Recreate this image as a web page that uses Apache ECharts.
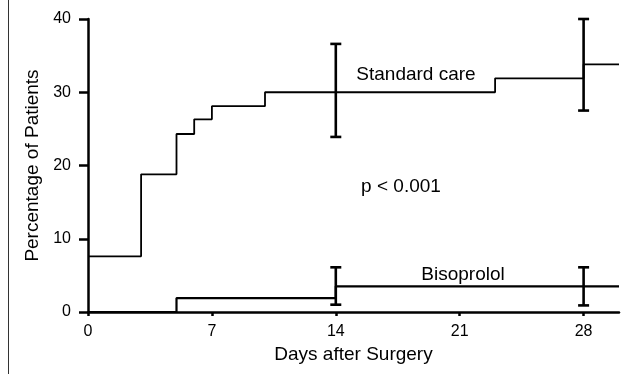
<!DOCTYPE html>
<html>
<head>
<meta charset="utf-8">
<script src="https://cdn.jsdelivr.net/npm/echarts@6/dist/echarts.min.js"></script>
<style>html,body{margin:0;padding:0;background:#fff}#c{width:631px;height:374px}</style>
</head>
<body>
<div id="c"></div>
<script>
// Standard care Kaplan-Meier style step curve (day, percentage)
const stdDays = [0, 3, 5, 6, 7, 10, 23, 28, 30];
const stdValues = [7.6, 18.8, 24.3, 26.3, 28.1, 30.0, 31.9, 33.8, 33.8];
// Bisoprolol step curve
const bisDays = [0, 5, 14, 30];
const bisValues = [0, 1.9, 3.5, 3.5];
// Error bars: day, low, high
const stdErrDays = [14, 28];
const stdErrLow = [23.9, 27.5];
const stdErrHigh = [36.6, 40.0];
const bisErrDays = [14, 28];
const bisErrLow = [1.0, 0.9];
const bisErrHigh = [6.1, 6.1];
// Axis ticks
const xTicks = [0, 7, 14, 21, 28];
const yTicks = [0, 10, 20, 30, 40];

const FONT = 'Liberation Sans';
const chart = echarts.init(document.getElementById('c'), null, {renderer: 'canvas'});

function errSeries(days, low, high) {
  return {
    type: 'custom',
    data: days.map((d, i) => [d, low[i], high[i]]),
    renderItem: function (params, api) {
      const x = api.value(0);
      const lo = api.coord([x, api.value(1)]);
      const hi = api.coord([x, api.value(2)]);
      const hw = 5.5;
      const style = {stroke: '#000', lineWidth: 2.6};
      return {
        type: 'group',
        children: [
          {type: 'line', shape: {x1: lo[0], y1: lo[1], x2: hi[0], y2: hi[1]}, style: style},
          {type: 'line', shape: {x1: lo[0] - hw, y1: lo[1], x2: lo[0] + hw, y2: lo[1]}, style: style},
          {type: 'line', shape: {x1: hi[0] - hw, y1: hi[1], x2: hi[0] + hw, y2: hi[1]}, style: style}
        ]
      };
    },
    z: 5,
    silent: true
  };
}

chart.setOption({
  animation: false,
  backgroundColor: '#fff',
  grid: {left: 88, right: 12, top: 19, bottom: 62, containLabel: false},
  xAxis: {
    type: 'value', min: 0, max: 30, interval: 7,
    name: 'Days after Surgery', nameLocation: 'middle', nameGap: 31,
    nameTextStyle: {fontFamily: FONT, fontSize: 19, color: '#000'},
    axisLine: {show: true, lineStyle: {color: '#000', width: 2.5}},
    axisTick: {show: true, length: 4, customValues: xTicks, lineStyle: {color: '#000', width: 2.5}},
    axisLabel: {customValues: xTicks, fontFamily: FONT, fontSize: 16, color: '#000', margin: 12},
    splitLine: {show: false}
  },
  yAxis: {
    type: 'value', min: 0, max: 40, interval: 10,
    name: 'Percentage of Patients', nameLocation: 'middle', nameGap: 45,
    nameTextStyle: {fontFamily: FONT, fontSize: 19, color: '#000'},
    axisLine: {show: true, onZero: false, lineStyle: {color: '#000', width: 2.5}},
    axisTick: {show: true, length: 9, customValues: yTicks, lineStyle: {color: '#000', width: 2.5}},
    axisLabel: {customValues: yTicks, fontFamily: FONT, fontSize: 16, color: '#000', margin: 17},
    splitLine: {show: false}
  },
  graphic: [
    {type: 'line', shape: {x1: 8.5, y1: 0, x2: 8.5, y2: 374}, style: {stroke: '#333', lineWidth: 1}},
    {type: 'text', x: 416, y: 75, style: {text: 'Standard care', font: '19px "Liberation Sans"', fill: '#000', align: 'center', verticalAlign: 'middle'}},
    {type: 'text', x: 401, y: 187, style: {text: 'p < 0.001', font: '19px "Liberation Sans"', fill: '#000', align: 'center', verticalAlign: 'middle'}},
    {type: 'text', x: 463, y: 275, style: {text: 'Bisoprolol', font: '19px "Liberation Sans"', fill: '#000', align: 'center', verticalAlign: 'middle'}}
  ],
  series: [
    {
      type: 'line', step: 'end', symbol: 'none', silent: true,
      data: stdDays.map((d, i) => [d, stdValues[i]]),
      lineStyle: {color: '#000', width: 1.8}
    },
    {
      type: 'line', step: 'end', symbol: 'none', silent: true,
      data: bisDays.map((d, i) => [d, bisValues[i]]),
      lineStyle: {color: '#000', width: 2.2}
    },
    errSeries(stdErrDays, stdErrLow, stdErrHigh),
    errSeries(bisErrDays, bisErrLow, bisErrHigh)
  ]
});
</script>
</body>
</html>
